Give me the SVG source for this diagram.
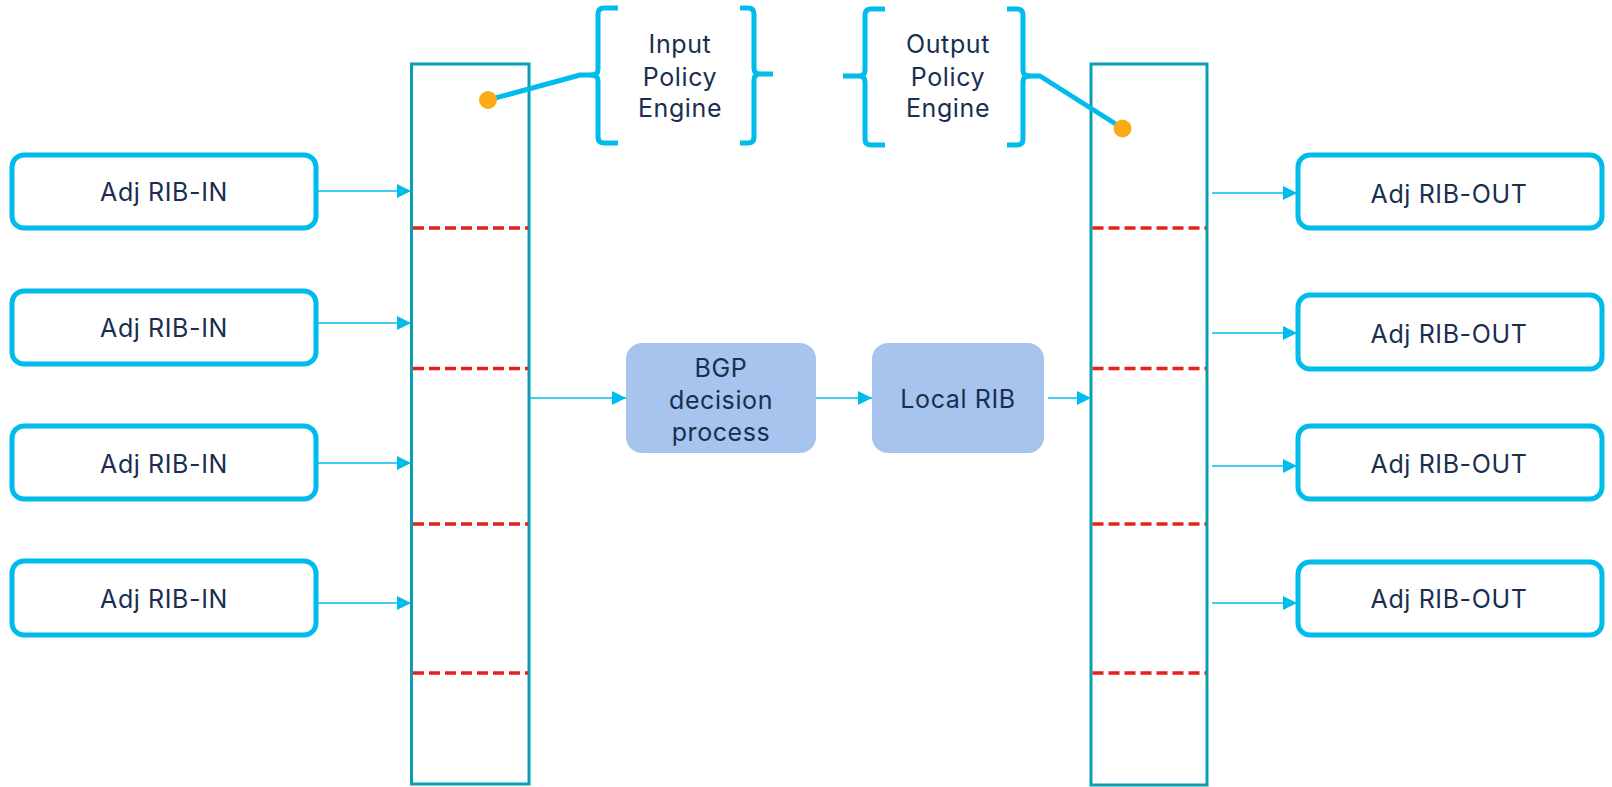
<svg xmlns="http://www.w3.org/2000/svg" width="1612" height="787" viewBox="0 0 1612 787">
<defs>
<style>
.adj{fill:#fff;stroke:#00BCEB;stroke-width:5}
.tall{fill:#fff;stroke:#0A9DB4;stroke-width:3}
.sep{stroke:#E2231A;stroke-width:3.5;stroke-dasharray:11 5}
.proc{fill:#A7C4EE;stroke:none}
.t{font-family:Inter,"Open Sans","Liberation Sans",sans-serif;font-size:25px;letter-spacing:0.6px;fill:#1A2E50;text-anchor:middle}
.conn{stroke:#00BCEB;stroke-width:1.6;fill:none;marker-end:url(#ah)}
.brace{stroke:#00BCEB;stroke-width:5;fill:none;stroke-linejoin:round}
.dot{fill:#FBAB18}
</style>
<marker id="ah" markerUnits="userSpaceOnUse" markerWidth="15" markerHeight="15" refX="14" refY="7" orient="auto">
<path d="M0,0 L14,7 L0,14 z" fill="#00BCEB"/>
</marker>
</defs>
<rect width="1612" height="787" fill="#fff"/>

<g id="rib-table-in">
<rect class="tall" x="411.5" y="64" width="117.5" height="720"/>
<line class="sep" x1="413" y1="228" x2="528" y2="228"/>
<line class="sep" x1="413" y1="368.5" x2="528" y2="368.5"/>
<line class="sep" x1="413" y1="524" x2="528" y2="524"/>
<line class="sep" x1="413" y1="673" x2="528" y2="673"/>
</g>
<g id="rib-table-out">
<rect class="tall" x="1091" y="64" width="116" height="721"/>
<line class="sep" x1="1092.5" y1="228" x2="1206" y2="228"/>
<line class="sep" x1="1092.5" y1="368.5" x2="1206" y2="368.5"/>
<line class="sep" x1="1092.5" y1="524" x2="1206" y2="524"/>
<line class="sep" x1="1092.5" y1="673" x2="1206" y2="673"/>
</g>

<g id="adj-in-1"><rect class="adj" x="12" y="155" width="304" height="73" rx="12"/><text class="t" x="164" y="201">Adj RIB-IN</text></g>
<g id="adj-in-2"><rect class="adj" x="12" y="291" width="304" height="73" rx="12"/><text class="t" x="164" y="337">Adj RIB-IN</text></g>
<g id="adj-in-3"><rect class="adj" x="12" y="426" width="304" height="73" rx="12"/><text class="t" x="164" y="473">Adj RIB-IN</text></g>
<g id="adj-in-4"><rect class="adj" x="12" y="561" width="304" height="74" rx="12"/><text class="t" x="164" y="608">Adj RIB-IN</text></g>

<g id="adj-out-1"><rect class="adj" x="1298" y="155" width="304" height="73" rx="12"/><text class="t" x="1449" y="203">Adj RIB-OUT</text></g>
<g id="adj-out-2"><rect class="adj" x="1298" y="295" width="304" height="74" rx="12"/><text class="t" x="1449" y="343">Adj RIB-OUT</text></g>
<g id="adj-out-3"><rect class="adj" x="1298" y="426" width="304" height="73" rx="12"/><text class="t" x="1449" y="473">Adj RIB-OUT</text></g>
<g id="adj-out-4"><rect class="adj" x="1298" y="562" width="304" height="73" rx="12"/><text class="t" x="1449" y="608">Adj RIB-OUT</text></g>

<g id="bgp-decision"><rect class="proc" x="626" y="343" width="190" height="110" rx="16"/>
<text class="t" x="721" y="377">BGP</text><text class="t" x="721" y="409">decision</text><text class="t" x="721" y="441">process</text></g>
<g id="local-rib"><rect class="proc" x="872" y="343" width="172" height="110" rx="16"/>
<text class="t" x="958" y="408">Local RIB</text></g>

<g id="input-policy">
<path class="brace" d="M618,8 L604,8 Q598,8 598,14 L598,69 Q598,75 592,75 Q598,75 598,81 L598,137 Q598,143 604,143 L618,143"/>
<path class="brace" d="M740,8 L748,8 Q754,8 754,14 L754,68 Q754,74 760,74 L773,74 M760,74 Q754,74 754,80 L754,137 Q754,143 748,143 L740,143"/>
<text class="t" x="680" y="53">Input</text><text class="t" x="680" y="86">Policy</text><text class="t" x="680" y="117">Engine</text>
</g>
<g id="output-policy">
<path class="brace" d="M885,9 L871,9 Q865,9 865,15 L865,70 Q865,76 859,76 L843,76 M859,76 Q865,76 865,82 L865,139 Q865,145 871,145 L885,145"/>
<path class="brace" d="M1007,9 L1017,9 Q1023,9 1023,15 L1023,70 Q1023,76 1029,76 Q1023,76 1023,82 L1023,139 Q1023,145 1017,145 L1007,145"/>
<text class="t" x="948" y="53">Output</text><text class="t" x="948" y="86">Policy</text><text class="t" x="948" y="117">Engine</text>
</g>

<g id="connectors">
<line class="conn" x1="316" y1="191" x2="411" y2="191"/>
<line class="conn" x1="316" y1="323" x2="411" y2="323"/>
<line class="conn" x1="316" y1="463" x2="411" y2="463"/>
<line class="conn" x1="316" y1="603" x2="411" y2="603"/>
<line class="conn" x1="1212" y1="193" x2="1297" y2="193"/>
<line class="conn" x1="1212" y1="333" x2="1297" y2="333"/>
<line class="conn" x1="1212" y1="466" x2="1297" y2="466"/>
<line class="conn" x1="1212" y1="603" x2="1297" y2="603"/>
<line class="conn" x1="530" y1="398" x2="626" y2="398"/>
<line class="conn" x1="816" y1="398" x2="872" y2="398"/>
<line class="conn" x1="1048" y1="398" x2="1091" y2="398"/>
<path class="brace" d="M488,100 L580,75 L598,75"/>
<path class="brace" d="M1023,76 L1040,76 L1122,128"/>
<circle class="dot" cx="488" cy="100" r="9"/>
<circle class="dot" cx="1122.5" cy="128.5" r="9"/>
</g>
</svg>
